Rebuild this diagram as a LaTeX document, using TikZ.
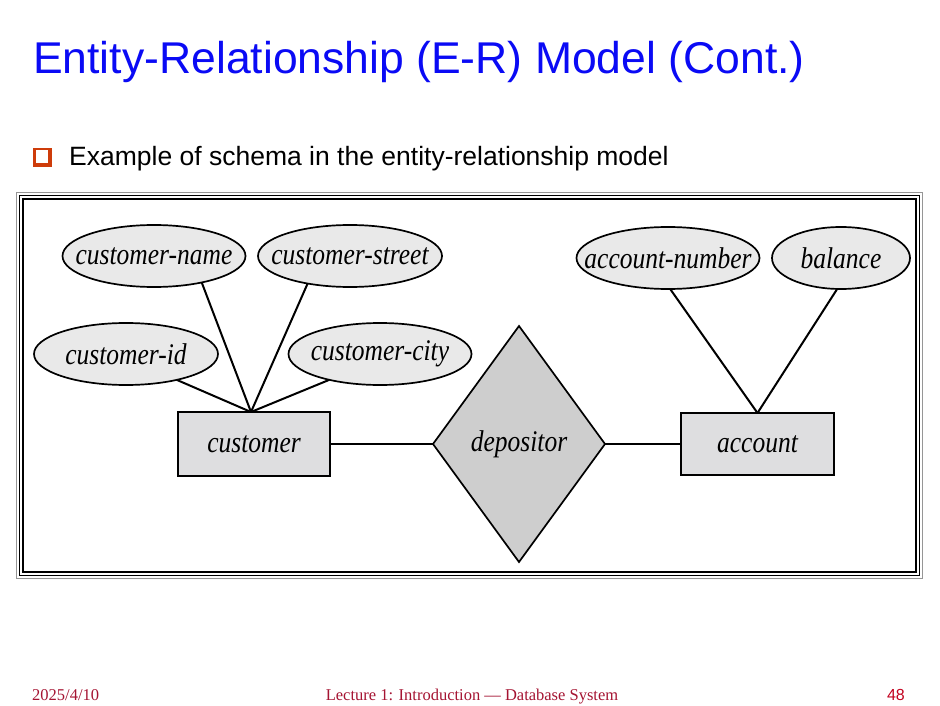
\documentclass[tikz,border=0pt]{standalone}
\usepackage{fontspec}
\setmainfont{Liberation Serif}
\newfontfamily\slidesans{Liberation Sans}
\newfontfamily\erfont[FakeStretch=0.85]{Liberation Serif}
\usetikzlibrary{shapes.geometric}

\definecolor{titleblue}{RGB}{10,10,245}
\definecolor{bulletred}{RGB}{206,60,10}
\definecolor{footred}{RGB}{165,20,50}
\definecolor{pagered}{RGB}{195,0,30}
\definecolor{ellfill}{RGB}{233,233,233}
\definecolor{entfill}{RGB}{222,222,224}
\definecolor{relfill}{RGB}{206,206,206}
\definecolor{framegray}{RGB}{150,150,150}

% zero-width label so the shape size comes only from minimum width/height
\newcommand{\erlbl}[1]{\makebox[0pt]{#1}}

\tikzset{
  erlabel/.style={font=\erfont\itshape\fontsize{30}{31}\selectfont},
  attr/.style={ellipse, draw, fill=ellfill, line width=1.7pt, inner sep=0pt,
    outer sep=0pt, minimum height=62pt, erlabel},
  entbox/.style={rectangle, draw, fill=entfill, line width=1.7pt, inner sep=0pt,
    outer sep=0pt, erlabel},
  relbox/.style={diamond, draw, fill=relfill, line width=1.7pt, inner sep=0pt,
    outer sep=0pt, erlabel},
  conn/.style={line width=2pt},
  foot/.style={font=\fontsize{16.5}{18}\selectfont, text=footred, inner sep=0pt, anchor=base}
}

\begin{document}
\begin{tikzpicture}[x=1pt,y=-1pt]
\useasboundingbox[fill=white] (0,0) rectangle (940,706);

% slide heading and bullet line
\node[anchor=base west, inner sep=0pt, text=titleblue,
  font=\slidesans\fontsize{44.5}{50}\selectfont] (title) at (33,74)
  {Entity-Relationship (E-R) Model (Cont.)};
\fill[bulletred] (33,148) rectangle (52,167);
\fill[white] (35.5,150.5) rectangle (48,163);
\node[anchor=base west, inner sep=0pt,
  font=\slidesans\fontsize{26.5}{30}\selectfont] (bullet) at (69,166)
  {Example of schema in the entity-relationship model};

% triple frame around the figure
\draw[framegray, line width=0.9pt] (16.5,192.5) rectangle (922.5,578.5);
\draw[black, line width=1.8pt] (19.5,195.5) rectangle (919.5,575.5);
\draw[black, line width=2pt] (23,199) rectangle (916,572);

% attributes
\node[attr, minimum width=183pt] (cname)   at (154,256) {\erlbl{customer-name}};
\node[attr, minimum width=184pt] (cstreet) at (350,256) {\erlbl{customer-street}};
\node[attr, minimum width=184pt] (cid)     at (126,354) {\erlbl{customer-id}};
\node[attr, minimum width=183pt] (ccity)   at (380,354) {\erlbl{customer-city}};
\node[attr, minimum width=183pt] (anum)    at (668,258) {\erlbl{account-number}};
\node[attr, minimum width=138pt] (bal)     at (841,258) {\erlbl{balance}};

% entity sets and relationship
\node[entbox, minimum width=152pt, minimum height=64pt] (cust) at (254,444) {\erlbl{customer}};
\node[entbox, minimum width=153pt, minimum height=62pt] (acc) at (757.5,444) {\erlbl{account}};
\node[relbox, minimum width=172pt, minimum height=236pt] (dep) at (519,444) {\erlbl{depositor}};

\coordinate (cj) at (251,412);

% attribute links
\draw[conn] (cname.-29) -- (cj);
\draw[conn] (cstreet.-147) -- (cj);
\draw[conn] (cid.-27) -- (cj);
\draw[conn] (ccity.-153) -- (cj);
\draw[conn] (anum.-86) -- (acc.north);
\draw[conn] (bal.-97) -- (acc.north);

% relationship links
\draw[conn] (cust.east) -- (dep.west);
\draw[conn] (dep.east) -- (acc.west);

% footer
\node[foot, anchor=base west] (date) at (32,700) {2025/4/10};
\node[foot] (lecture) at (472,700) {Lecture 1: Introduction — Database System};
\node[foot, anchor=base east, text=pagered,
  font=\slidesans\fontsize{16}{18}\selectfont] (page) at (905,700) {48};
\end{tikzpicture}
\end{document}
